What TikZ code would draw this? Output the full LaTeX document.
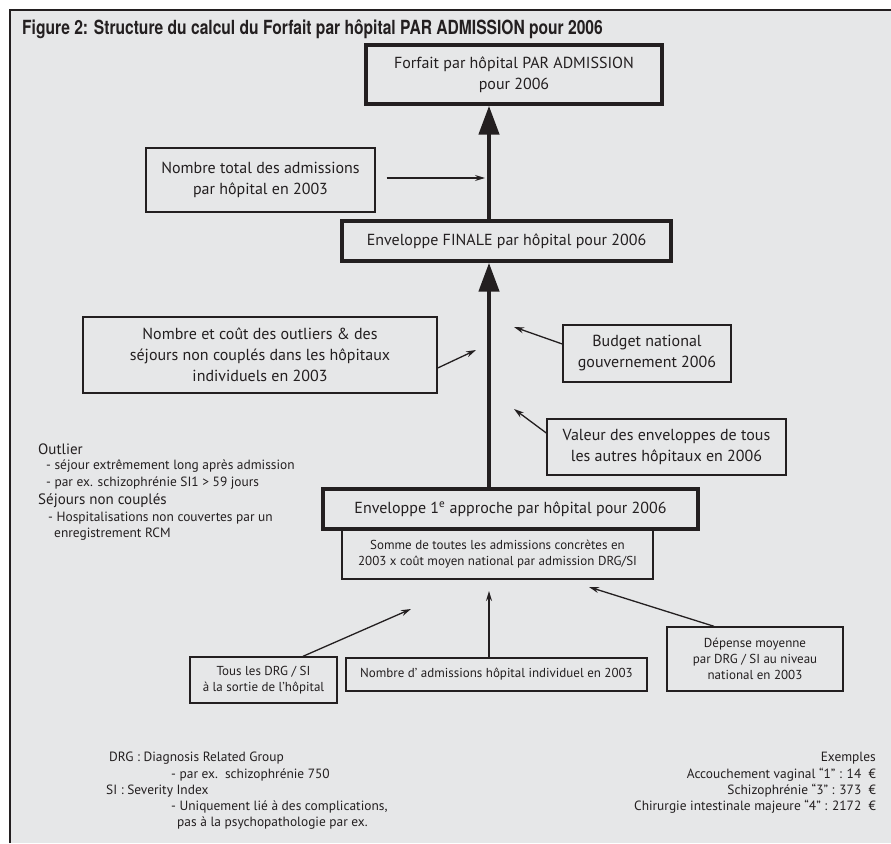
\documentclass[tikz,border=0pt]{standalone}
\usepackage{fontspec}
\setmainfont{PT Sans}
\newfontfamily\titlefont{TeX Gyre Heros}[FakeStretch=0.8]
\usetikzlibrary{positioning, arrows.meta}
\definecolor{panel}{HTML}{E6E7E8}
\definecolor{ink}{HTML}{231F20}

\begin{document}
\begin{tikzpicture}[x=1pt, y=-1pt, text=ink,
		every node/.style={align=center, inner sep=0pt, font=\fontsize{16}{21}\selectfont},
		thickbox/.style={draw=ink, line width=3.4pt},
		thinbox/.style={draw=ink, line width=1.4pt},
		subbox/.style={draw=ink, line width=2.2pt},
		small/.style={font=\fontsize{13}{16}\selectfont},
		note/.style={anchor=west, align=left, font=\fontsize{13.4}{16}\selectfont},
		thinarrow/.style={draw=ink, line width=1.3pt, -{Stealth[length=10pt, width=6pt]}},
		bigarrow/.style={draw=ink, line width=4.5pt, -{Triangle[length=29pt, width=20pt]}}]

			\useasboundingbox (0,0) rectangle (891,843);

			% Background panel
			\fill[panel] (10,10) rectangle (891,843);
			\draw[ink, line width=1.5pt] (10,843) -- (10,10) -- (891,10);

			\node[anchor=west, font=\titlefont\bfseries\fontsize{19.5}{23}\selectfont] (title) at (22,29)
				{Figure 2: Structure du calcul du Forfait par hôpital PAR ADMISSION pour 2006};

			% Main column
			\node[thickbox, minimum width=296pt, minimum height=59pt] (forfait) at (514,74.5)
				{Forfait par hôpital PAR ADMISSION\\pour 2006};
			\node[thickbox, minimum width=329pt, minimum height=40pt] (final) at (506.5,241)
				{Enveloppe FINALE par hôpital pour 2006};
			\node[thickbox, minimum width=375pt, minimum height=40pt] (env1) at (510.5,509)
				{Enveloppe 1\textsuperscript{e} approche par hôpital pour 2006};
			\node[subbox, small, minimum width=311pt, minimum height=50pt] (somme) at (497.5,554)
				{Somme de toutes les admissions concrètes en\\2003 x coût moyen national par admission DRG/SI};

			% Side boxes
			\node[thinbox, minimum width=229pt, minimum height=64pt] (total) at (260.5,180)
				{Nombre total des admissions\\par hôpital en 2003};
			\node[thinbox, minimum width=354pt, minimum height=76pt] (outl) at (260,355)
				{Nombre et coût des outliers \& des\\séjours non couplés dans les hôpitaux\\individuels en 2003};
			\node[thinbox, minimum width=168pt, minimum height=57pt] (budget) at (647,353.5)
				{Budget national\\gouvernement 2006};
			\node[thinbox, minimum width=239pt, minimum height=56pt] (valeur) at (666.5,447)
				{Valeur des enveloppes de tous\\les autres hôpitaux en 2006};

			% Bottom boxes
			\node[thinbox, small, minimum width=147pt, minimum height=46pt] (tous) at (263.5,680)
				{Tous les DRG / SI\\à la sortie de l’hôpital};
			\node[thinbox, small, minimum width=301pt, minimum height=33pt] (nbadm) at (496.5,674.5)
				{Nombre d’ admissions hôpital individuel en 2003};
			\node[thinbox, small, minimum width=176pt, minimum height=64pt] (depense) at (755,659)
				{Dépense moyenne\\par DRG / SI au niveau\\national en 2003};

			% Free ends of the arrows
			\coordinate (spine) at (489,0);
			\coordinate (totalend) at (485,178);
			\coordinate (outlend) at (476,350);
			\coordinate (budgetend) at (514,327);
			\coordinate (valeurend) at (514,409);
			\coordinate (tousend) at (411,609);
			\coordinate (nbadmend) at (489,591);
			\coordinate (depenseend) at (589,587);

			% Arrows
			\draw[bigarrow] (final.north -| spine) -- (forfait.south -| spine);
			\draw[bigarrow] (env1.north -| spine) -- (final.south -| spine);
			\draw[thinarrow] ([xshift=11pt, yshift=2pt]total.east) -- (totalend);
			\draw[thinarrow] ([yshift=-13pt]outl.east) -- (outlend);
			\draw[thinarrow] ([yshift=9.5pt]budget.west) -- (budgetend);
			\draw[thinarrow] ([yshift=14pt]valeur.west) -- (valeurend);
			\draw[thinarrow] ([xshift=39.5pt]tous.north) -- (tousend);
			\draw[thinarrow] (nbadm.north -| nbadmend) -- (nbadmend);
			\draw[thinarrow] ([xshift=-41pt]depense.north) -- (depenseend);

			% Notes on the left
			\node[note, font=\fontsize{15}{18}\selectfont] (outlier) at (38,449) {Outlier};
			\node[note] (outlierA) at (46,466) {- séjour extrêmement long après admission};
			\node[note] (outlierB) at (46,483) {- par ex. schizophrénie SI1 > 59 jours};
			\node[note, font=\fontsize{15}{18}\selectfont] (sejours) at (38,501) {Séjours non couplés};
			\node[note] (sejoursA) at (48,518) {- Hospitalisations non couvertes par un};
			\node[note] (sejoursB) at (54,534) {enregistrement RCM};

			% Notes at the bottom
			\node[note] (drg) at (109,758) {DRG : Diagnosis Related Group};
			\node[note] (drgA) at (171,775) {- par ex.\ \ schizophrénie 750};
			\node[note] (si) at (106,791) {SI : Severity Index};
			\node[note] (siA) at (171,807) {- Uniquement lié à des complications,};
			\node[note] (siB) at (177,823) {pas à la psychopathologie par ex.};

			\node[note, anchor=east] (ex) at (876,758) {Exemples};
			\node[note, anchor=east] (exA) at (876,775) {Accouchement vaginal “1” : 14 \ €};
			\node[note, anchor=east] (exB) at (876,791) {Schizophrénie “3” : 373 \ €};
			\node[note, anchor=east] (exC) at (876,807) {Chirurgie intestinale majeure “4” : 2172 \ €};

		\end{tikzpicture}
\end{document}
